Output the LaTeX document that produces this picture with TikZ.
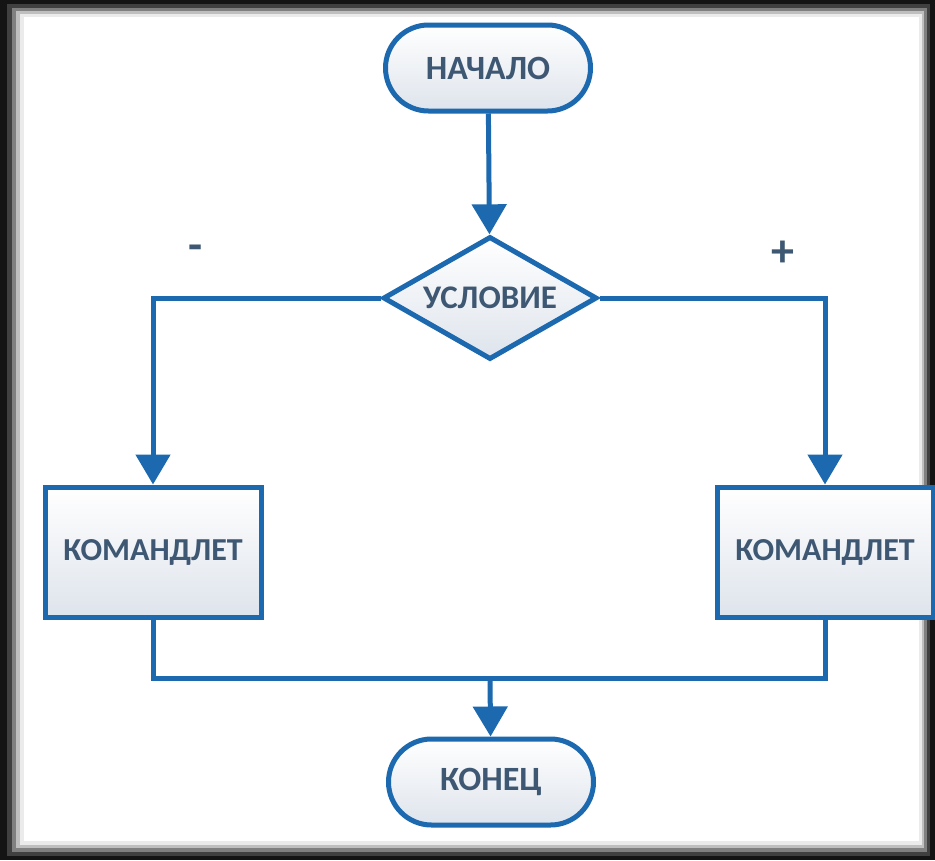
\documentclass[tikz,border=0pt]{standalone}
\usepackage{fontspec}
\setmainfont{Carlito}
\usetikzlibrary{arrows.meta,shapes.geometric}
\definecolor{lineblue}{RGB}{28,105,175}
\definecolor{txtblue}{RGB}{62,88,115}
\definecolor{fillbot}{RGB}{222,228,236}
\tikzset{
  base/.style={draw=lineblue, line width=5pt, top color=white, bottom color=fillbot,
    text=txtblue, font=\bfseries\fontsize{32}{32}\selectfont, inner sep=0pt},
  term/.style={base, rounded corners=43pt, minimum width=205pt, minimum height=86pt,
    font=\bfseries\fontsize{34}{34}\selectfont},
  decis/.style={base, diamond, aspect=1.74, minimum width=214pt, minimum height=123pt,
    font=\bfseries\fontsize{33}{33}\selectfont},
  procbox/.style={base, rectangle, minimum width=216pt, minimum height=130pt},
  conn/.style={draw=lineblue, line width=5pt},
  arr/.style={conn, -{Triangle[width=34pt,length=30pt]}},
  sign/.style={text=txtblue, font=\bfseries\fontsize{46}{46}\selectfont}
}
\begin{document}
\begin{tikzpicture}[x=1pt,y=-1pt]
\useasboundingbox (0,0) rectangle (935,860);
\fill[black!92] (0,0) rectangle (935,860);
\fill[black!75] (7,4) rectangle (930,856);
\fill[black!50] (12,8) rectangle (927,852);
\fill[black!25] (16,11) rectangle (924,848);
\fill[black!8] (20,14) rectangle (922,845);
\fill[white] (24,17) rectangle (919,841);
\node[term] (start) at (488,68) {НАЧАЛО};
\node[decis] (cond) at (490,298) {УСЛОВИЕ};
\node[procbox] (boxL) at (153,552) {КОМАНДЛЕТ};
\node[procbox] (boxR) at (825,552) {КОМАНДЛЕТ};
\node[term] (finish) at (491,782) {КОНЕЦ};
\coordinate (join) at (490,678);
\node[sign] (minus) at (196,253) {-};
\node[sign] (plus) at (783,254) {+};
\draw[arr] (start) -- (cond);
\draw[arr] (cond.west) -| (boxL.north);
\draw[arr] (cond.east) -| (boxR.north);
\draw[conn] (boxL.south) |- (join) -| (boxR.south);
\draw[arr] (join) -- (finish);
\end{tikzpicture}
\end{document}
